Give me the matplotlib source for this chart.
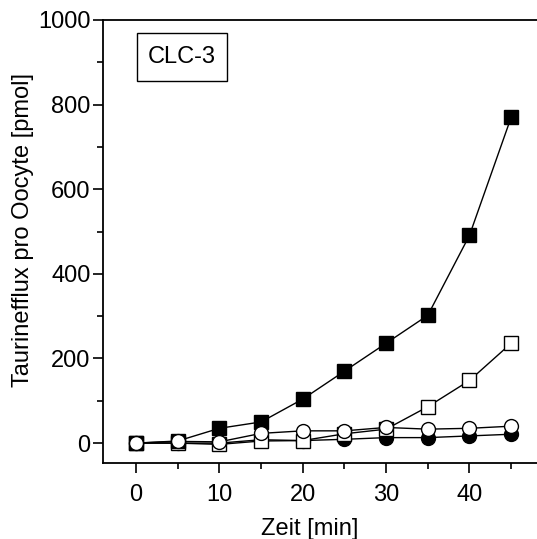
import matplotlib.pyplot as plt
from matplotlib.patches import Rectangle

plt.rcParams['font.family'] = ['Liberation Sans', 'DejaVu Sans']

zeit = [0, 5, 10, 15, 20, 25, 30, 35, 40, 45]

# taurine efflux per oocyte [pmol], four conditions
gefuellt_quadrat = [0, 5, 35, 50, 104, 170, 236, 302, 491, 770]
offen_quadrat = [0, 0, -3, 5, 6, 22, 33, 86, 148, 236]
gefuellt_kreis = [0, 0, 0, 8, 6, 9, 13, 13, 17, 21]
offen_kreis = [0, 4, 3, 23, 29, 29, 37, 33, 35, 40]

fig = plt.figure(figsize=(5.37, 5.39), dpi=100)
ax = fig.add_axes([103 / 537, 1 - 463 / 539, 439 / 537, 443 / 539])

ms = 10
ax.plot(zeit, gefuellt_kreis, '-o', color='black', lw=1.0, ms=ms,
        mfc='black', mec='black', zorder=3)
ax.plot(zeit, offen_quadrat, '-s', color='black', lw=1.0, ms=ms,
        mfc='white', mec='black', mew=1.0, zorder=4)
ax.plot(zeit, gefuellt_quadrat, '-s', color='black', lw=1.0, ms=ms,
        mfc='black', mec='black', zorder=5)
ax.plot(zeit, offen_kreis, '-o', color='black', lw=1.0, ms=ms,
        mfc='white', mec='black', mew=1.0, zorder=6)

ax.set_xlim(-3.96, 48.7)
ax.set_ylim(-47, 1000)

ax.set_xticks([0, 10, 20, 30, 40])
ax.set_xticks([5, 15, 25, 35, 45], minor=True)
ax.set_yticks([0, 200, 400, 600, 800, 1000])
ax.set_yticks([100, 300, 500, 700, 900], minor=True)

ax.tick_params(which='both', direction='out', width=1.2, labelsize=17,
               top=False, right=False)
ax.tick_params(which='major', length=7)
ax.tick_params(which='minor', length=4)
ax.tick_params(axis='x', which='major', pad=8)
ax.tick_params(axis='y', which='major', pad=2)

for side in ['left', 'bottom', 'top']:
    ax.spines[side].set_linewidth(1.3)
ax.spines['right'].set_visible(False)

ax.set_xlabel('Zeit [min]', fontsize=17)
ax.set_ylabel('Taurinefflux pro Oocyte [pmol]', fontsize=17)
ax.xaxis.set_label_coords(0.4715, -0.124)
ax.yaxis.set_label_coords(-0.157, 0.526)

ax.add_patch(Rectangle((0.0768, 0.863), 0.205, 0.1084, transform=ax.transAxes,
                       fill=False, edgecolor='black', lw=1.0, zorder=7))
ax.text(0.179, 0.917, 'CLC-3', transform=ax.transAxes, fontsize=17,
        ha='center', va='center', zorder=8)

fig.savefig('out.png', dpi=100)
